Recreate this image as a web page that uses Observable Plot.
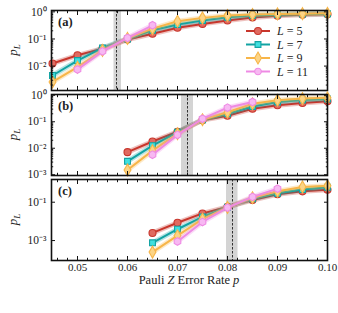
<!DOCTYPE html>
<html><head><meta charset="utf-8">
<script src="https://cdn.jsdelivr.net/npm/d3@7"></script>
<script src="https://cdn.jsdelivr.net/npm/@observablehq/plot@0.6"></script>
<style>
body{margin:0;background:#fff;}
#chart{position:relative;width:338px;height:313px;font-family:"Liberation Serif",serif;}
#chart svg{position:absolute;left:0;overflow:visible;}
#xlabel{position:absolute;left:51px;width:276px;top:273px;line-height:14px;text-align:center;font-size:12.5px;color:#222;}
</style></head><body><div id="chart"><div id="xlabel">Pauli <i>Z</i> Error Rate <i>p</i></div></div>
<script>
// ---- data ----
const seriesNames = ["L = 5", "L = 7", "L = 9", "L = 11"];
// panel (a)
const pA   = [0.045, 0.05, 0.055, 0.06, 0.065, 0.07, 0.075, 0.08, 0.085, 0.09, 0.095, 0.10];
const aL5  = [0.0125, 0.025, 0.044, 0.095, 0.155, 0.26, 0.36, 0.48, 0.62, 0.72, 0.78, 0.82];
const aL7  = [0.0045, 0.016, 0.047, 0.10, 0.21, 0.34, 0.48, 0.63, 0.73, 0.79, 0.83, 0.85];
const aL9  = [0.0026, 0.0091, 0.038, 0.105, 0.24, 0.45, 0.60, 0.73, 0.80, 0.84, 0.86, 0.88];
const aL11 = [null, 0.0075, 0.035, 0.11, 0.32, null, null, null, null, null, null, null];
const critA = 0.0578, bandA = [0.0573, 0.0588];
// panel (b)
const pB   = [0.06, 0.065, 0.07, 0.075, 0.08, 0.085, 0.09, 0.095, 0.10];
const bL5  = [0.0071, 0.018, 0.042, 0.115, 0.17, 0.31, 0.42, 0.51, 0.60];
const bL7  = [0.0032, 0.0125, 0.040, 0.12, 0.20, 0.38, 0.56, 0.66, 0.72];
const bL9  = [0.0015, 0.0081, 0.035, 0.12, 0.23, 0.48, 0.65, 0.75, 0.80];
const bL11 = [null, 0.0057, 0.032, 0.13, 0.34, 0.56, null, null, null];
const critB = 0.072, bandB = [0.0708, 0.0732];
// panel (c)
const pC   = [0.065, 0.07, 0.075, 0.08, 0.085, 0.09, 0.095, 0.10];
const cL5  = [0.0025, 0.0085, 0.026, 0.057, 0.13, 0.26, 0.37, 0.45];
const cL7  = [0.00076, 0.0039, 0.017, 0.055, 0.15, 0.29, 0.46, 0.60];
const cL9  = [0.00025, 0.0018, 0.013, 0.054, 0.17, 0.37, 0.63, 0.72];
const cL11 = [null, 0.00089, 0.0093, 0.052, 0.19, 0.51, null, null];
const critC = 0.081, bandC = [0.0798, 0.0821];
// ticks
const xMajor = [0.05, 0.06, 0.07, 0.08, 0.09, 0.10];
const xTickLabels = ["0.05", "0.06", "0.07", "0.08", "0.09", "0.10"];
const yMajorAB = [1e-3, 1e-2, 1e-1, 1];
const yMajorC = [1e-3, 1e-1];

// ---- styles ----
const styles = [
  {line: "#c8362c", fill: "#e06a60", symbol: "circle", r: 3.5},
  {line: "#12a3a3", fill: "#3fe0e0", symbol: "square", r: 3.3},
  {line: "#f7b548", fill: "#fcd485", symbol: "diamond", r: 3.6},
  {line: "#ee8ae4", fill: "#f7b8f2", symbol: "hexagon", r: 3.3}
];
const W = 338, ML = 51, MR = 11;
const xMinor = d3.range(0.046, 0.1001, 0.002).filter(v => !xMajor.some(m => Math.abs(m - v) < 1e-6));
const sup = {"-": "\u207B", "0": "\u2070", "1": "\u00B9", "2": "\u00B2", "3": "\u00B3", "4": "\u2074"};
const fmtPow = d => "10" + String(Math.round(Math.log10(d))).split("").map(c => sup[c]).join("");
function logMinor(lo, hi) {
  const out = [];
  for (let k = Math.floor(Math.log10(lo)); k <= Math.ceil(Math.log10(hi)); k++)
    for (let m = 2; m <= 9; m++) { const v = m * Math.pow(10, k); if (v >= lo && v <= hi) out.push(v); }
  return out;
}

function panel({p, vals, yDomain, yMajor, minorY, crit, band, top, height, mt, mb, label, xLabels}) {
  const marks = [];
  marks.push(Plot.rect([band], {x1: d => d[0], x2: d => d[1], fill: "#d4d4d4"}));
  marks.push(Plot.ruleX([crit], {stroke: "#333", strokeWidth: 1, strokeDasharray: "2.5,1.5"}));
  vals.forEach((arr, i) => {
    const rows = p.map((x, j) => ({p: x, v: arr[j]})).filter(d => d.v != null);
    const s = styles[i];
    marks.push(Plot.line(rows, {x: "p", y: "v", stroke: s.line, strokeWidth: 5, strokeOpacity: 0.3}));
    marks.push(Plot.line(rows, {x: "p", y: "v", stroke: s.line, strokeWidth: 2}));
    marks.push(Plot.dot(rows, {x: "p", y: "v", symbol: () => s.symbol, r: s.r, fill: s.fill, stroke: s.line, strokeWidth: 1.1}));
  });
  marks.push(Plot.frame({stroke: "#111", strokeWidth: 1.6}));
  const blank = () => "";
  for (const anchor of ["bottom", "top"]) {
    marks.push(Plot.axisX(xMajor, {anchor, tickSize: -4, tickFormat: blank, label: null, stroke: "#111"}));
    marks.push(Plot.axisX(xMinor, {anchor, tickSize: -2.2, tickFormat: blank, label: null, stroke: "#111"}));
  }
  if (xLabels) marks.push(Plot.axisX(xMajor, {anchor: "bottom", tickSize: 0, tickPadding: 3, tickFormat: (d, i) => xTickLabels[i], label: null, fontSize: 11, fill: "#222"}));
  for (const anchor of ["left", "right"]) {
    marks.push(Plot.axisY(yMajor, {anchor, tickSize: -4, tickFormat: blank, label: null, stroke: "#111"}));
    if (minorY) marks.push(Plot.axisY(logMinor(yDomain[0], yDomain[1]), {anchor, tickSize: -2.2, tickFormat: blank, label: null, stroke: "#111"}));
  }
  marks.push(Plot.axisY(yMajor, {anchor: "left", tickSize: 0, tickPadding: 5, tickFormat: fmtPow, label: null, fontSize: 11.5, fill: "#222"}));
  const svg = Plot.plot({
    width: W, height, marginLeft: ML, marginRight: MR, marginTop: mt, marginBottom: mb,
    style: {fontFamily: "Liberation Serif, serif", background: "transparent", overflow: "visible"},
    x: {domain: [0.0448, 0.1]},
    y: {type: "log", domain: yDomain},
    marks
  });
  svg.style.top = top + "px";
  const s = d3.select(svg);
  const cy = mt + (height - mt - mb) / 2;
  const yl = s.append("text").attr("transform", `translate(17,${cy}) rotate(-90)`)
    .attr("text-anchor", "middle").attr("font-size", 13).attr("fill", "#222")
    .attr("font-family", "Liberation Serif, serif");
  yl.append("tspan").attr("font-style", "italic").text("p");
  yl.append("tspan").attr("font-style", "italic").attr("font-size", 9).attr("dy", 3).text("L");
  s.append("text").attr("x", 58).attr("y", mt + 16).attr("text-anchor", "start").attr("font-weight", "bold").attr("font-size", 12.5)
    .attr("fill", "#222").attr("font-family", "Liberation Serif, serif").text(label);
  document.getElementById("chart").appendChild(svg);
  return svg;
}

const svgA = panel({p: pA, vals: [aL5, aL7, aL9, aL11], yDomain: [Math.pow(10, -2.9), Math.pow(10, 0.05)], yMajor: [1e-2, 1e-1, 1], minorY: true,
  crit: critA, band: bandA, top: 0, height: 92, mt: 10, mb: 2, label: "(a)", xLabels: false});
panel({p: pB, vals: [bL5, bL7, bL9, bL11], yDomain: [Math.pow(10, -3.03), Math.pow(10, 0.03)], yMajor: yMajorAB, minorY: true,
  crit: critB, band: bandB, top: 92, height: 85, mt: 2, mb: 2, label: "(b)", xLabels: false});
panel({p: pC, vals: [cL5, cL7, cL9, cL11], yDomain: [Math.pow(10, -4.04), Math.pow(10, 0.185)], yMajor: yMajorC, minorY: false,
  crit: critC, band: bandC, top: 177, height: 113, mt: 2, mb: 30, label: "(c)", xLabels: true});

// legend inside panel (a)
const lg = d3.select(svgA).append("g").attr("text-anchor", "start");
seriesNames.forEach((name, i) => {
  const s = styles[i], y = 31 + i * 13.5;
  lg.append("line").attr("x1", 246).attr("x2", 270).attr("y1", y).attr("y2", y).attr("stroke", s.line).attr("stroke-width", 2);
  const sym = {circle: d3.symbolCircle, square: d3.symbolSquare, diamond: d3.symbolDiamond, hexagon: d3.symbolCircle}[s.symbol];
  lg.append("path").attr("d", d3.symbol(sym, Math.PI * s.r * s.r)()).attr("transform", `translate(258,${y})`)
    .attr("fill", s.fill).attr("stroke", s.line).attr("stroke-width", 1.1);
  const t = lg.append("text").attr("x", 277).attr("y", y + 4).attr("text-anchor", "start").attr("font-size", 12).attr("fill", "#222")
    .attr("font-family", "Liberation Serif, serif");
  const [a, b] = name.split(" = ");
  t.append("tspan").attr("font-style", "italic").text(a);
  t.append("tspan").text(" = " + b);
});
</script></body></html>
